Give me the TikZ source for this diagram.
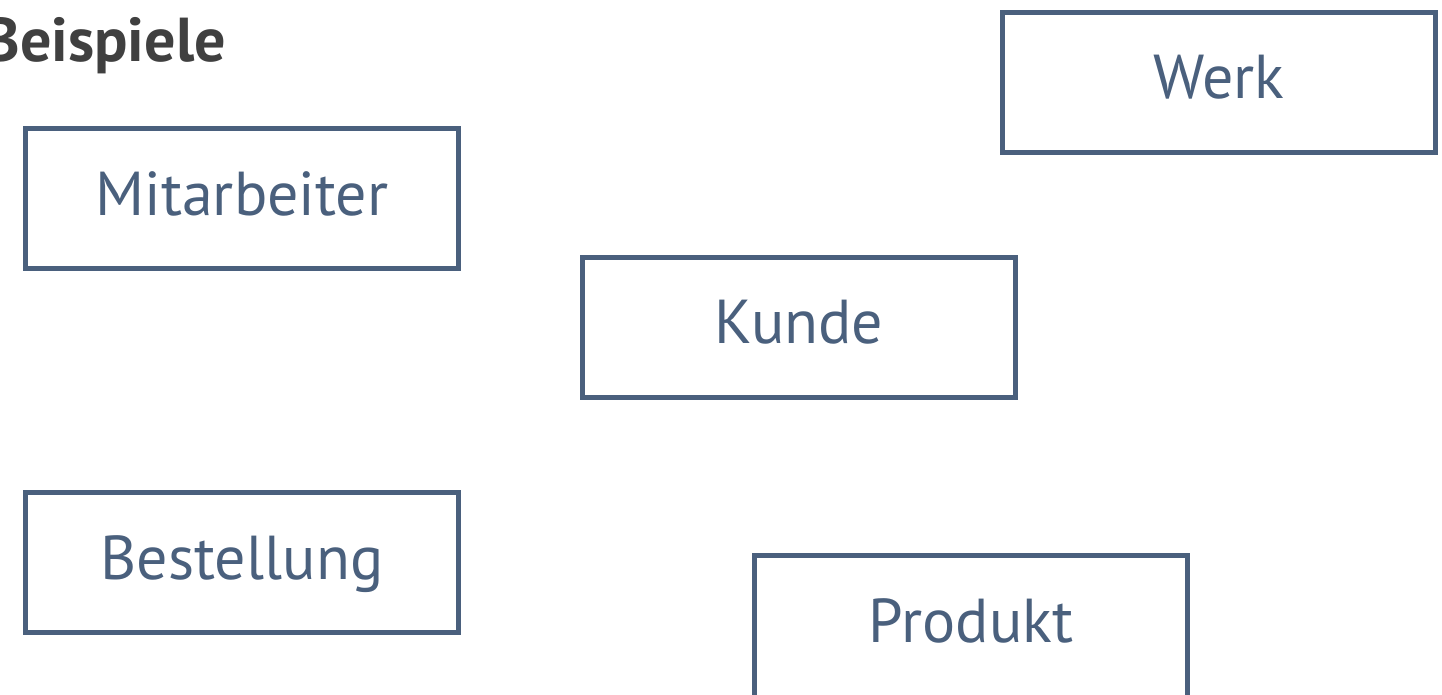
\documentclass[tikz,border=0pt]{standalone}
\usepackage{fontspec}
\setmainfont{PT Sans}
\definecolor{boxblue}{RGB}{74,96,125}
\definecolor{titlegray}{RGB}{64,64,64}
\tikzset{
  entity/.style={draw=boxblue, line width=5pt, text=boxblue,
    minimum width=433pt, minimum height=140pt, inner sep=0pt,
    font=\fontsize{62}{70}\selectfont, text height=45pt, text depth=12pt},
  heading/.style={text=titlegray, inner sep=0pt,
    font=\fontsize{62}{70}\selectfont\bfseries}
}
\begin{document}
\begin{tikzpicture}[x=1pt, y=-1pt]
  \useasboundingbox (0,0) rectangle (1442,695);
  \node[heading, anchor=base east] (title) at (226,62) {Beispiele};
  \node[entity] (mitarbeiter) at (242,198.5) {Mitarbeiter};
  \node[entity] (werk) at (1219,82.5) {Werk};
  \node[entity] (kunde) at (799,327) {Kunde};
  \node[entity] (bestellung) at (242,562.5) {Bestellung};
  \node[entity, minimum height=160pt, text depth=32pt] (produkt) at (971,635.5) {Produkt};
\end{tikzpicture}
\end{document}
